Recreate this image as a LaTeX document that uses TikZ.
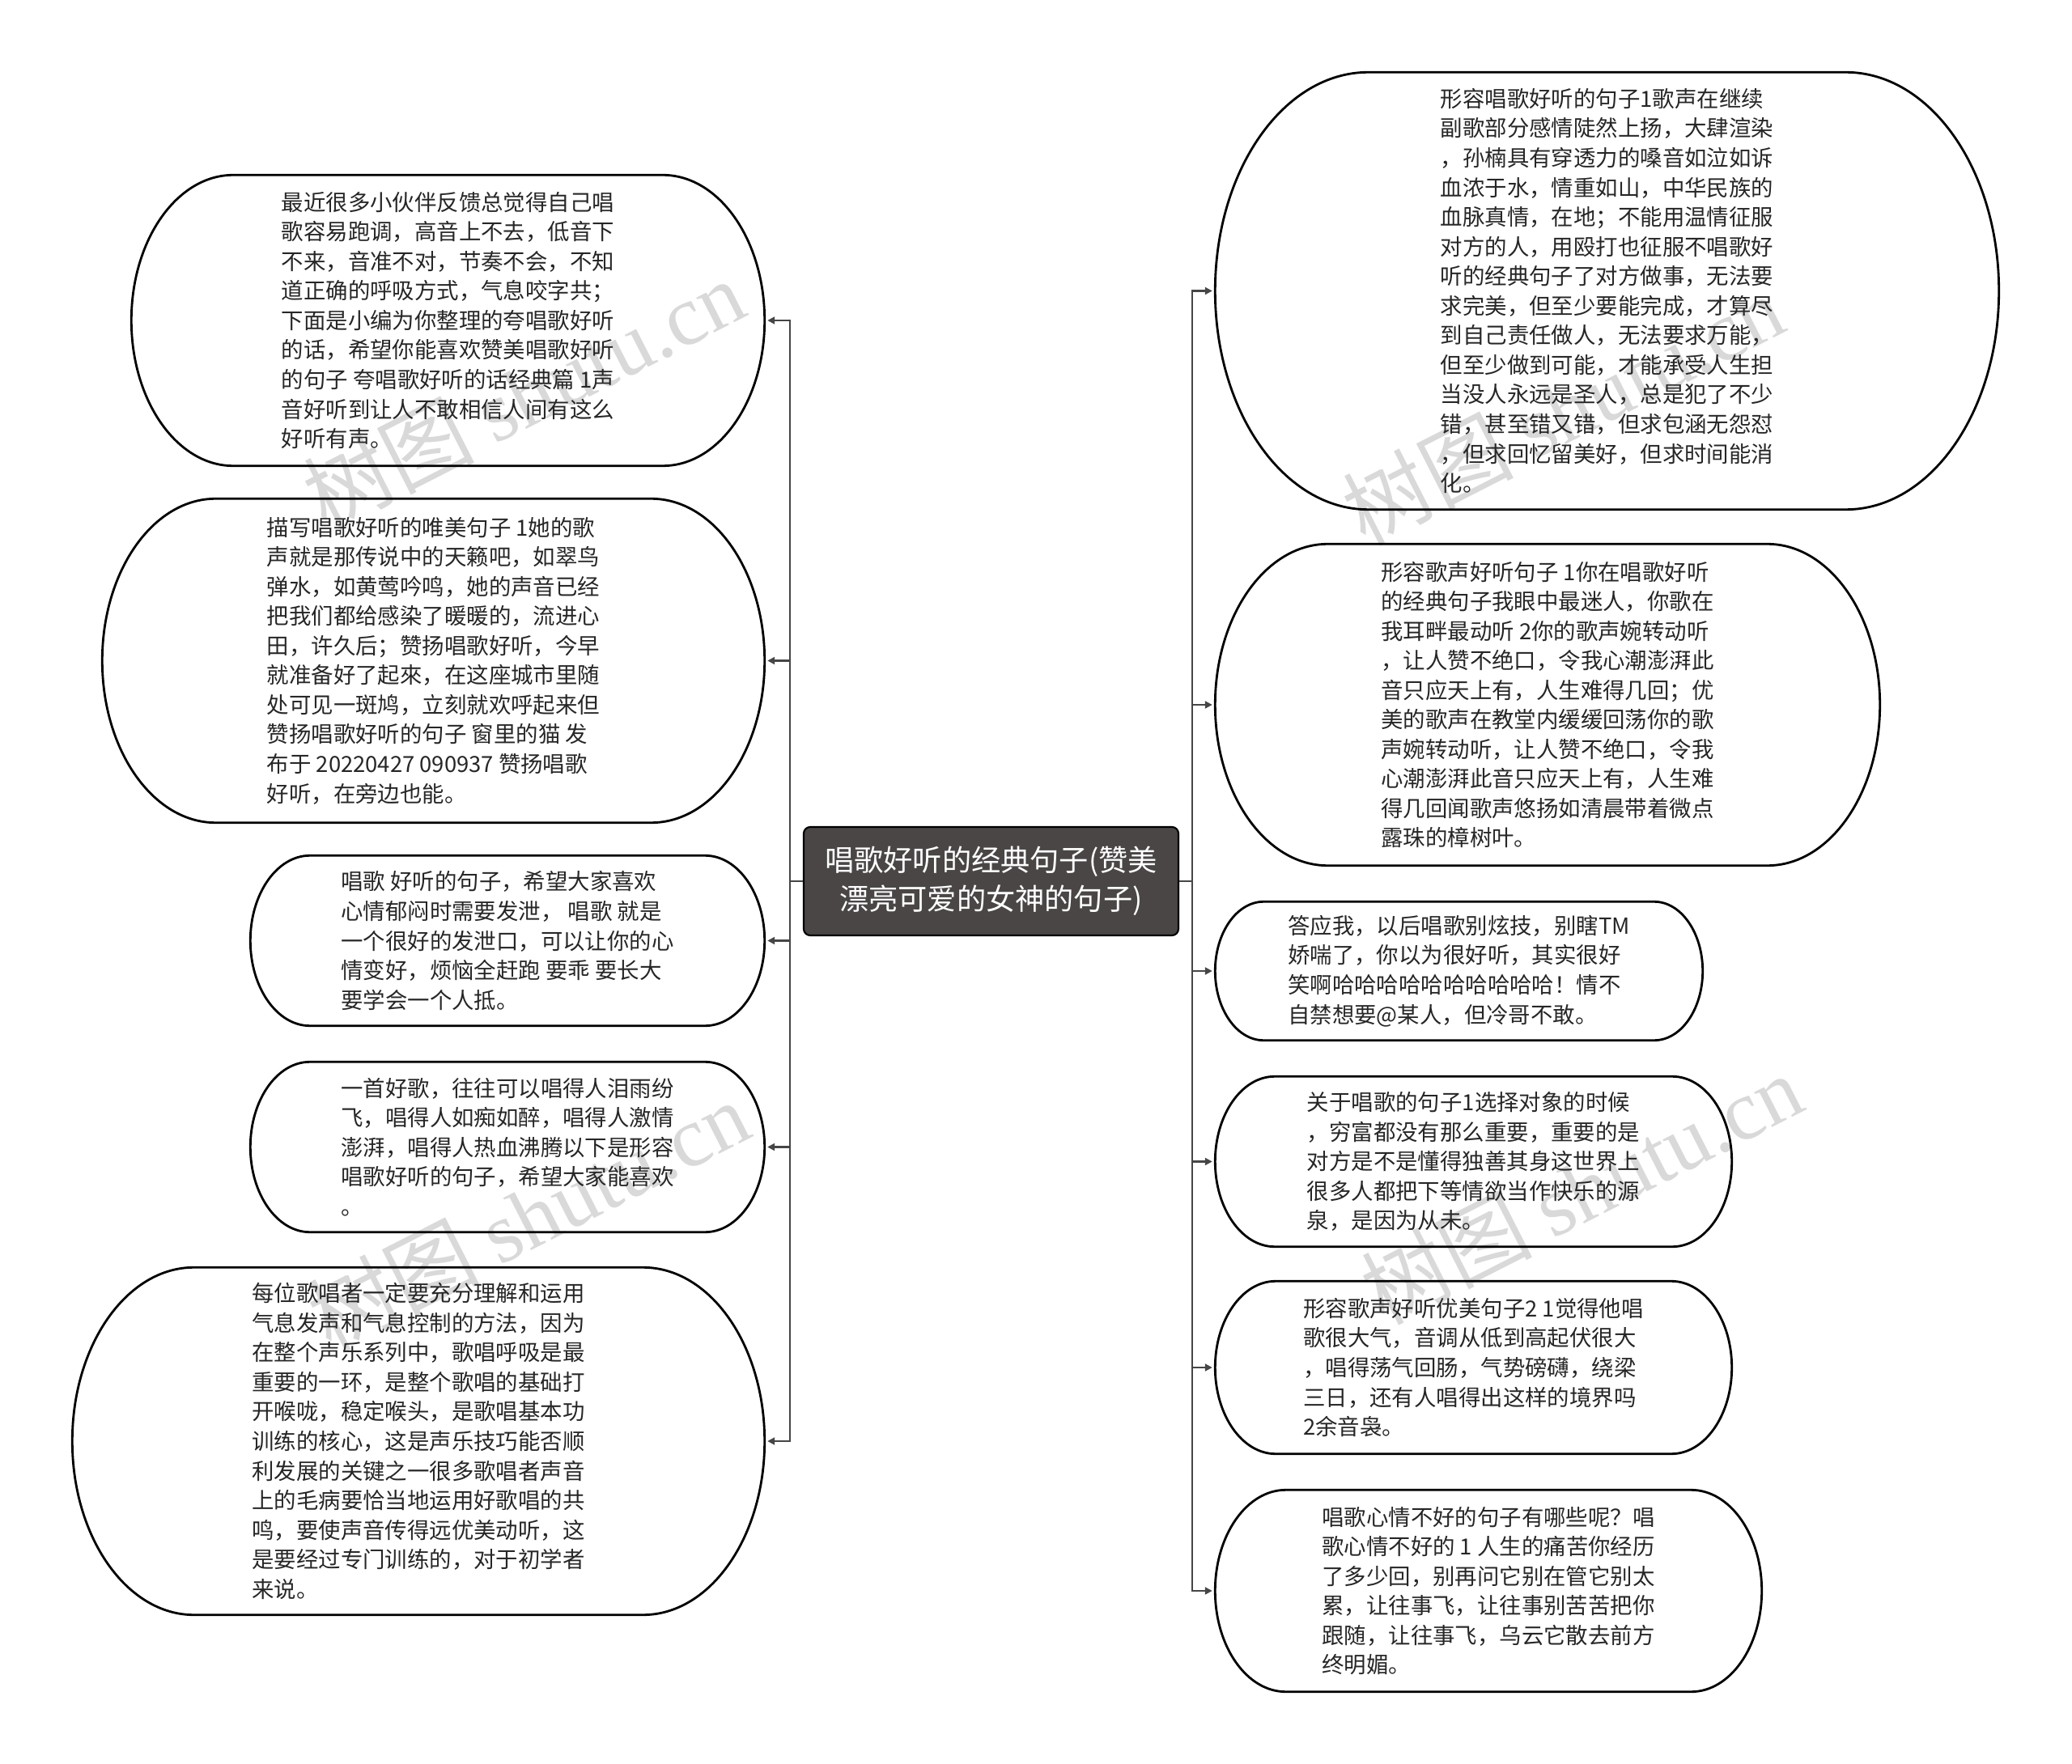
\documentclass[tikz,border=0pt]{standalone}
\usepackage{fontspec}
\setmainfont{Noto Sans CJK SC}
\newfontfamily\wmfont{Liberation Serif}
\usetikzlibrary{calc,arrows.meta}

\definecolor{rootfill}{HTML}{4A4646}
\definecolor{linkgray}{HTML}{464646}
\definecolor{leaftext}{HTML}{262626}
\definecolor{wmgray}{HTML}{D9D9D9}

% outline with elliptic ends round a leaf node
\newcommand\leafframe[1]{%
  \draw[leafline] let \p1=(#1.north west), \p2=(#1.south east),
    \n1={(\y1-\y2)/2}, \n2={0.7*\n1} in
    (\x1+\n2,\y1) -- (\x2-\n2,\y1)
    arc[start angle=90, end angle=-90, x radius=\n2, y radius=\n1]
    -- (\x1+\n2,\y2)
    arc[start angle=270, end angle=90, x radius=\n2, y radius=\n1] -- cycle;}

\begin{document}
\begin{tikzpicture}[
  leaf/.style={inner sep=0pt, align=left, text=leaftext, font=\fontsize{7.8}{10.4}\selectfont},
  root/.style={draw=black, line width=0.6pt, fill=rootfill, rounded corners=0.08cm, text=white, align=center, inner sep=0pt, font=\fontsize{10.3}{13.6}\selectfont},
  link/.style={draw=linkgray, line width=0.6pt, -{Triangle[length=0.9mm,width=0.9mm]}, shorten >=1pt},
  leafline/.style={draw=black, line width=0.8pt},
  wm/.style={text=wmgray, font=\fontsize{30}{30}\selectfont, rotate=27}
]
\useasboundingbox (0,0) rectangle (25.6,-21.8);

% watermark
\node[wm] (wm1) at (6.47,-4.87) {树图 {\wmfont shutu.cn}};
\node[wm] (wm2) at (19.31,-5.06) {树图 {\wmfont shutu.cn}};
\node[wm] (wm3) at (6.53,-15.02) {树图 {\wmfont shutu.cn}};
\node[wm] (wm4) at (19.54,-14.69) {树图 {\wmfont shutu.cn}};

% centre
\node[root, minimum width=4.63cm, minimum height=1.34cm] (root) at (12.245,-10.89)
  {唱歌好听的经典句子(赞美\\漂亮可爱的女神的句子)};

% left side
\node[leaf, minimum width=7.81cm, minimum height=3.58cm] (l1) at (5.535,-3.96) {最近很多小伙伴反馈总觉得自己唱\\
歌容易跑调，高音上不去，低音下\\
不来，音准不对，节奏不会，不知\\
道正确的呼吸方式，气息咬字共；\\
下面是小编为你整理的夸唱歌好听\\
的话，希望你能喜欢赞美唱歌好听\\
的句子 夸唱歌好听的话经典篇 1声\\
音好听到让人不敢相信人间有这么\\
好听有声。};
\node[leaf, minimum width=8.17cm, minimum height=3.99cm] (l2) at (5.355,-8.165) {描写唱歌好听的唯美句子 1她的歌\\
声就是那传说中的天籁吧，如翠鸟\\
弹水，如黄莺吟鸣，她的声音已经\\
把我们都给感染了暖暖的，流进心\\
田，许久后；赞扬唱歌好听，今早\\
就准备好了起來，在这座城市里随\\
处可见一斑鸠，立刻就欢呼起来但\\
赞扬唱歌好听的句子 窗里的猫 发\\
布于 20220427 090937 赞扬唱歌\\
好听，在旁边也能。};
\node[leaf, minimum width=6.34cm, minimum height=2.09cm] (l3) at (6.27,-11.625) {唱歌 好听的句子，希望大家喜欢\\
心情郁闷时需要发泄， 唱歌 就是\\
一个很好的发泄口，可以让你的心\\
情变好，烦恼全赶跑 要乖 要长大\\
要学会一个人抵。};
\node[leaf, minimum width=6.34cm, minimum height=2.09cm] (l4) at (6.27,-14.175) {一首好歌，往往可以唱得人泪雨纷\\
飞，唱得人如痴如醉，唱得人激情\\
澎湃，唱得人热血沸腾以下是形容\\
唱歌好听的句子，希望大家能喜欢\\
。};
\node[leaf, minimum width=8.54cm, minimum height=4.28cm] (l5) at (5.17,-17.81) {每位歌唱者一定要充分理解和运用\\
气息发声和气息控制的方法，因为\\
在整个声乐系列中，歌唱呼吸是最\\
重要的一环，是整个歌唱的基础打\\
开喉咙，稳定喉头，是歌唱基本功\\
训练的核心，这是声乐技巧能否顺\\
利发展的关键之一很多歌唱者声音\\
上的毛病要恰当地运用好歌唱的共\\
鸣，要使声音传得远优美动听，这\\
是要经过专门训练的，对于初学者\\
来说。};

% right side
\node[leaf, minimum width=9.67cm, minimum height=5.39cm] (r1) at (19.855,-3.595) {形容唱歌好听的句子1歌声在继续\\
副歌部分感情陡然上扬，大肆渲染\\
，孙楠具有穿透力的嗓音如泣如诉\\
血浓于水，情重如山，中华民族的\\
血脉真情，在地；不能用温情征服\\
对方的人，用殴打也征服不唱歌好\\
听的经典句子了对方做事，无法要\\
求完美，但至少要能完成，才算尽\\
到自己责任做人，无法要求万能，\\
但至少做到可能，才能承受人生担\\
当没人永远是圣人，总是犯了不少\\
错，甚至错又错，但求包涵无怨怼\\
，但求回忆留美好，但求时间能消\\
化。};
\node[leaf, minimum width=8.20cm, minimum height=3.96cm] (r2) at (19.12,-8.71) {形容歌声好听句子 1你在唱歌好听\\
的经典句子我眼中最迷人，你歌在\\
我耳畔最动听 2你的歌声婉转动听\\
，让人赞不绝口，令我心潮澎湃此\\
音只应天上有，人生难得几回；优\\
美的歌声在教堂内缓缓回荡你的歌\\
声婉转动听，让人赞不绝口，令我\\
心潮澎湃此音只应天上有，人生难\\
得几回闻歌声悠扬如清晨带着微点\\
露珠的樟树叶。};
\node[leaf, minimum width=6.01cm, minimum height=1.70cm] (r3) at (18.025,-12.0) {答应我，以后唱歌别炫技，别瞎TM\\
娇喘了，你以为很好听，其实很好\\
笑啊哈哈哈哈哈哈哈哈哈哈！情不\\
自禁想要@某人，但冷哥不敢。};
\node[leaf, minimum width=6.37cm, minimum height=2.09cm] (r4) at (18.205,-14.355) {关于唱歌的句子1选择对象的时候\\
，穷富都没有那么重要，重要的是\\
对方是不是懂得独善其身这世界上\\
很多人都把下等情欲当作快乐的源\\
泉，是因为从未。};
\node[leaf, minimum width=6.37cm, minimum height=2.12cm] (r5) at (18.205,-16.90) {形容歌声好听优美句子2 1觉得他唱\\
歌很大气，音调从低到高起伏很大\\
，唱得荡气回肠，气势磅礴，绕梁\\
三日，还有人唱得出这样的境界吗\\
2余音袅。};
\node[leaf, minimum width=6.74cm, minimum height=2.48cm] (r6) at (18.39,-19.66) {唱歌心情不好的句子有哪些呢？唱\\
歌心情不好的 1 人生的痛苦你经历\\
了多少回，别再问它别在管它别太\\
累，让往事飞，让往事别苦苦把你\\
跟随，让往事飞，乌云它散去前方\\
终明媚。};

\foreach \nd in {l1,l2,l3,l4,l5,r1,r2,r3,r4,r5,r6} {\leafframe{\nd}}

% connectors
\coordinate (lspine) at (9.76,-10.89);
\coordinate (rspine) at (14.73,-10.89);
\foreach \nd in {l1,l2,l3,l4,l5}
  \draw[link] (root.west) -- (lspine) |- (\nd.east);
\foreach \nd in {r1,r2,r3,r4,r5,r6}
  \draw[link] (root.east) -- (rspine) |- (\nd.west);
\end{tikzpicture}
\end{document}
